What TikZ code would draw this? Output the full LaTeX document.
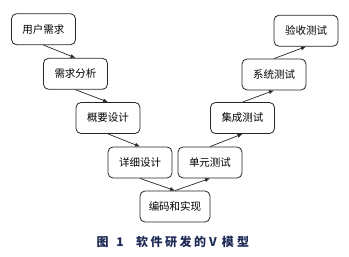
\documentclass[tikz,border=0pt]{standalone}
\usepackage{fontspec}
\setmainfont{Noto Sans CJK SC}
\usetikzlibrary{arrows.meta}
\definecolor{capblue}{HTML}{1E2A55}
\tikzset{
  stage/.style={draw=black!85, line width=0.8pt, rounded corners=5pt, minimum width=64pt, minimum height=31pt, inner sep=0pt, font=\fontsize{10.5pt}{12pt}\selectfont},
  flow/.style={draw=black!85, line width=0.7pt, -{Latex[length=5pt,width=4pt]}},
  capch/.style={text=capblue, font=\bfseries\fontsize{12pt}{14pt}\selectfont, inner sep=0pt, anchor=base}
}
\begin{document}
\begin{tikzpicture}[x=1pt,y=-1pt]
\useasboundingbox (0,0) rectangle (349,257);
\node[stage] (a) at (43.5,29.2) {用户需求};
\node[stage] (b) at (75.5,73.8) {需求分析};
\node[stage] (c) at (108,118) {概要设计};
\node[stage] (d) at (140,162.5) {详细设计};
\node[stage, minimum width=70pt] (e) at (175,206.5) {编码和实现};
\node[stage] (f) at (210,162.5) {单元测试};
\node[stage] (g) at (242.5,118) {集成测试};
\node[stage] (h) at (274,74.5) {系统测试};
\node[stage] (i) at (306,30.7) {验收测试};
\draw[flow] (a.south) -- (b.north);
\draw[flow] (b.south) -- (c.north);
\draw[flow] (c.south) -- (d.north);
\draw[flow] (d.south) -- (e.north);
\draw[flow] (e.north) -- (f.south);
\draw[flow] (f.north) -- (g.south);
\draw[flow] (g.north) -- (h.south);
\draw[flow] (h.north) -- (i.south);
\node[capch] (c1) at (102.5,246.5) {图};
\node[capch] (c2) at (120,246.5) {1};
\node[capch] (c3) at (142,246.5) {软};
\node[capch] (c4) at (156.5,246.5) {件};
\node[capch] (c5) at (171,246.5) {研};
\node[capch] (c6) at (185.5,246.5) {发};
\node[capch] (c7) at (200,246.5) {的};
\node[capch] (c8) at (213,246.5) {V};
\node[capch] (c9) at (228,246.5) {模};
\node[capch] (c10) at (243,246.5) {型};
\end{tikzpicture}
\end{document}
